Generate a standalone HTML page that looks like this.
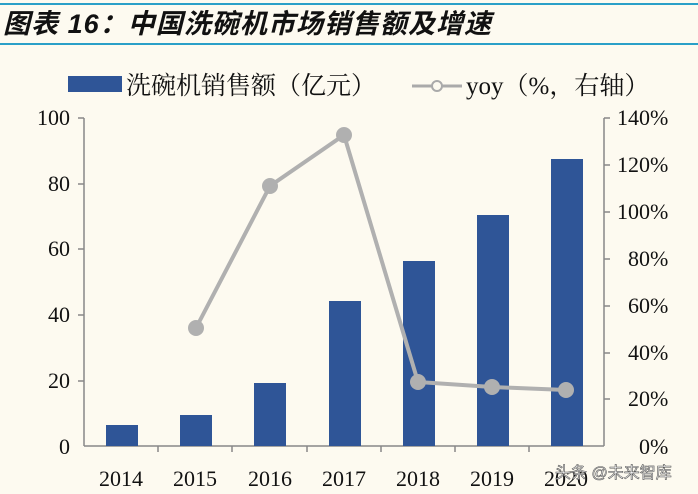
<!DOCTYPE html>
<html><head><meta charset="utf-8"><style>
body{margin:0;background:#fdfaf0;}
svg{display:block}
</style></head><body>
<svg width="698" height="494" xmlns="http://www.w3.org/2000/svg">
<rect width="698" height="494" fill="#fdfaf0"/>
<rect x="0" y="3" width="698" height="2" fill="#2aa0c8"/>
<rect x="0" y="43" width="698" height="2" fill="#2aa0c8"/>
<text x="3" y="33" font-family="Liberation Sans, Noto Sans CJK SC, sans-serif" font-size="27" font-weight="bold" font-style="italic" fill="#111" textLength="488">图表 16：中国洗碗机市场销售额及增速</text>
<rect x="68" y="76" width="54" height="16" fill="#2f5597"/>
<text x="126" y="94" font-family="Liberation Serif, Noto Serif CJK SC, serif" font-size="25" fill="#111">洗碗机销售额（亿元）</text>
<line x1="412" y1="86" x2="462" y2="86" stroke="#aaa" stroke-width="3"/>
<circle cx="437" cy="86" r="5" fill="#fdfaf0" stroke="#aaa" stroke-width="2"/>
<text x="466" y="94" font-family="Liberation Serif, Noto Serif CJK SC, serif" font-size="25" fill="#111">yoy（%，右轴）</text>
<g font-family="Liberation Serif, serif" font-size="22" fill="#111">
<text x="70" y="125" text-anchor="end">100</text>
<text x="70" y="191" text-anchor="end">80</text>
<text x="70" y="256" text-anchor="end">60</text>
<text x="70" y="322" text-anchor="end">40</text>
<text x="70" y="388" text-anchor="end">20</text>
<text x="70" y="454" text-anchor="end">0</text>
<text x="617" y="125">140%</text>
<text x="617" y="172">120%</text>
<text x="617" y="219">100%</text>
<text x="628" y="266">80%</text>
<text x="628" y="313">60%</text>
<text x="628" y="360">40%</text>
<text x="628" y="406">20%</text>
<text x="639" y="454">0%</text>
<text x="121" y="486" text-anchor="middle">2014</text>
<text x="195" y="486" text-anchor="middle">2015</text>
<text x="270" y="486" text-anchor="middle">2016</text>
<text x="344" y="486" text-anchor="middle">2017</text>
<text x="418" y="486" text-anchor="middle">2018</text>
<text x="492" y="486" text-anchor="middle">2019</text>
<text x="566" y="486" text-anchor="middle">2020</text>
</g>
<g stroke="#888" stroke-width="1.5">
<line x1="84" y1="118" x2="84" y2="446"/>
<line x1="604" y1="118" x2="604" y2="446"/>
<line x1="84" y1="446" x2="604" y2="446"/>
<line x1="78" y1="118" x2="84" y2="118"/><line x1="78" y1="184" x2="84" y2="184"/><line x1="78" y1="249" x2="84" y2="249"/><line x1="78" y1="315" x2="84" y2="315"/><line x1="78" y1="381" x2="84" y2="381"/>
<line x1="604" y1="118" x2="610" y2="118"/><line x1="604" y1="165" x2="610" y2="165"/><line x1="604" y1="212" x2="610" y2="212"/><line x1="604" y1="259" x2="610" y2="259"/><line x1="604" y1="306" x2="610" y2="306"/><line x1="604" y1="353" x2="610" y2="353"/><line x1="604" y1="399" x2="610" y2="399"/>
<line x1="158" y1="446" x2="158" y2="452"/><line x1="232" y1="446" x2="232" y2="452"/><line x1="307" y1="446" x2="307" y2="452"/><line x1="381" y1="446" x2="381" y2="452"/><line x1="455" y1="446" x2="455" y2="452"/><line x1="529" y1="446" x2="529" y2="452"/>
</g>
<g fill="#2f5597">
<rect x="106" y="425" width="32" height="21"/>
<rect x="180" y="415" width="32" height="31"/>
<rect x="254" y="383" width="32" height="63"/>
<rect x="329" y="301" width="32" height="145"/>
<rect x="403" y="261" width="32" height="185"/>
<rect x="477" y="215" width="32" height="231"/>
<rect x="551" y="159" width="32" height="287"/>
</g>
<polyline points="196,328 270,186 344,135 418,382 492,387 566,390" fill="none" stroke="#b0b0b0" stroke-width="4"/>
<g fill="#b0b0b0">
<circle cx="196" cy="328" r="8"/><circle cx="270" cy="186" r="8"/><circle cx="344" cy="135" r="8"/><circle cx="418" cy="382" r="8"/><circle cx="492" cy="387" r="8"/><circle cx="566" cy="390" r="8"/>
</g>
<text x="555" y="478" font-family="Liberation Sans, Noto Sans CJK SC, sans-serif" font-size="16" fill="#fff" stroke="#555" stroke-width="0.6">头条 @未来智库</text>
</svg>
</body></html>
